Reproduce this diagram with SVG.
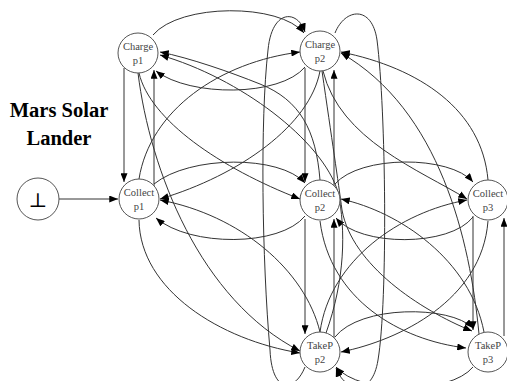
<svg xmlns="http://www.w3.org/2000/svg" width="507" height="381" viewBox="0 0 507 381">
<style>
.n circle{fill:#fff;stroke:#555;stroke-width:1}
.n text{font-family:"Liberation Serif",serif;font-size:10.5px;fill:#444;text-anchor:middle}
.e path{fill:none;stroke:#333;stroke-width:1;marker-end:url(#a)}
.t{font-family:"Liberation Serif",serif;font-weight:bold;font-size:20.5px;text-anchor:middle;fill:#000}
</style>
<defs>
<marker id="a" viewBox="0 0 10 8" refX="10" refY="4" markerWidth="9" markerHeight="7" orient="auto" markerUnits="userSpaceOnUse"><path d="M0,0 L10,4 L0,8 z" fill="#000"/></marker>
</defs>
<rect width="507" height="381" fill="#fff"/>
<text class="t" x="59" y="117">Mars Solar</text>
<text class="t" x="59" y="145">Lander</text>
<g class="e" id="edges">
<path d="M59,199 L118,199"/>
<path d="M124,68 L124,182"/>
<path d="M154,186 L154,70"/>
<path d="M153,35 C180,3 280,3 304,33"/>
<path d="M305,67 C280,97 190,97 156,71"/>
<path d="M154,184 C190,155 280,155 305,183"/>
<path d="M305,216 C280,247 190,247 156,218"/>
<path d="M335,184 C360,155 450,155 473,182"/>
<path d="M473,217 C450,247 360,247 336,218"/>
<path d="M335,337 C360,305 450,305 473,328"/>
<path d="M473,367 C450,395 360,395 336,367"/>
<path d="M305,68 L305,182"/>
<path d="M334,186 L334,70"/>
<path d="M305,219 L305,334"/>
<path d="M334,338 L334,219"/>
<path d="M473,216 L473,330"/>
<path d="M504,336 L504,218"/>
<path d="M335,33 C345,8 372,5 377,40 C386,110 388,300 378,360 C372,398 345,392 336,368"/>
<path d="M305,367 C295,392 272,395 270,350 C262,260 260,120 268,50 C272,8 298,10 305,32"/>
<path d="M139,179 C150,110 220,62 300,52"/>
<path d="M320,71 C310,125 240,175 160,199"/>
<path d="M139,73 C150,120 220,168 300,199"/>
<path d="M138,73 C150,170 200,300 300,351"/>
<path d="M139,220 C140,290 220,340 300,353"/>
<path d="M323,71 C340,140 420,170 467,199"/>
<path d="M488,180 C482,110 420,68 341,52"/>
<path d="M320,332 C330,260 400,212 467,200"/>
<path d="M488,221 C482,300 400,340 341,352"/>
<path d="M320,221 C330,300 400,340 466,348"/>
<path d="M484,332 C470,260 400,212 341,199"/>
<path d="M320,180 C316,130 300,100 260,84 C230,72 190,58 160,52"/>
<path d="M320,332 C305,270 240,215 160,200"/>
<path d="M479,334 C470,240 440,110 341,53"/>
<path d="M322,71 C332,140 338,180 342,210 C352,265 420,310 472,331"/>
<path d="M326,333 C345,280 346,230 338,192 C322,140 240,78 160,55"/>
</g>
<g class="n" id="bottom"><circle cx="38" cy="199" r="21"/><text x="38" y="207" style="font-family:'DejaVu Serif',serif;font-size:20px;fill:#000">⊥</text></g>
<g class="n" id="charge_p1"><circle cx="138" cy="53" r="20"/><text x="138" y="50">Charge</text><text x="138" y="64">p1</text></g>
<g class="n" id="collect_p1"><circle cx="139" cy="199" r="20"/><text x="139" y="196">Collect</text><text x="139" y="210">p1</text></g>
<g class="n" id="charge_p2"><circle cx="320" cy="51" r="20"/><text x="320" y="48">Charge</text><text x="320" y="62">p2</text></g>
<g class="n" id="collect_p2"><circle cx="320" cy="200" r="20"/><text x="320" y="197">Collect</text><text x="320" y="211">p2</text></g>
<g class="n" id="collect_p3"><circle cx="488" cy="200" r="20"/><text x="488" y="197">Collect</text><text x="488" y="211">p3</text></g>
<g class="n" id="takep_p2"><circle cx="320" cy="352" r="20"/><text x="320" y="349">TakeP</text><text x="320" y="363">p2</text></g>
<g class="n" id="takep_p3"><circle cx="488" cy="352" r="20"/><text x="488" y="349">TakeP</text><text x="488" y="363">p3</text></g>
</svg>
